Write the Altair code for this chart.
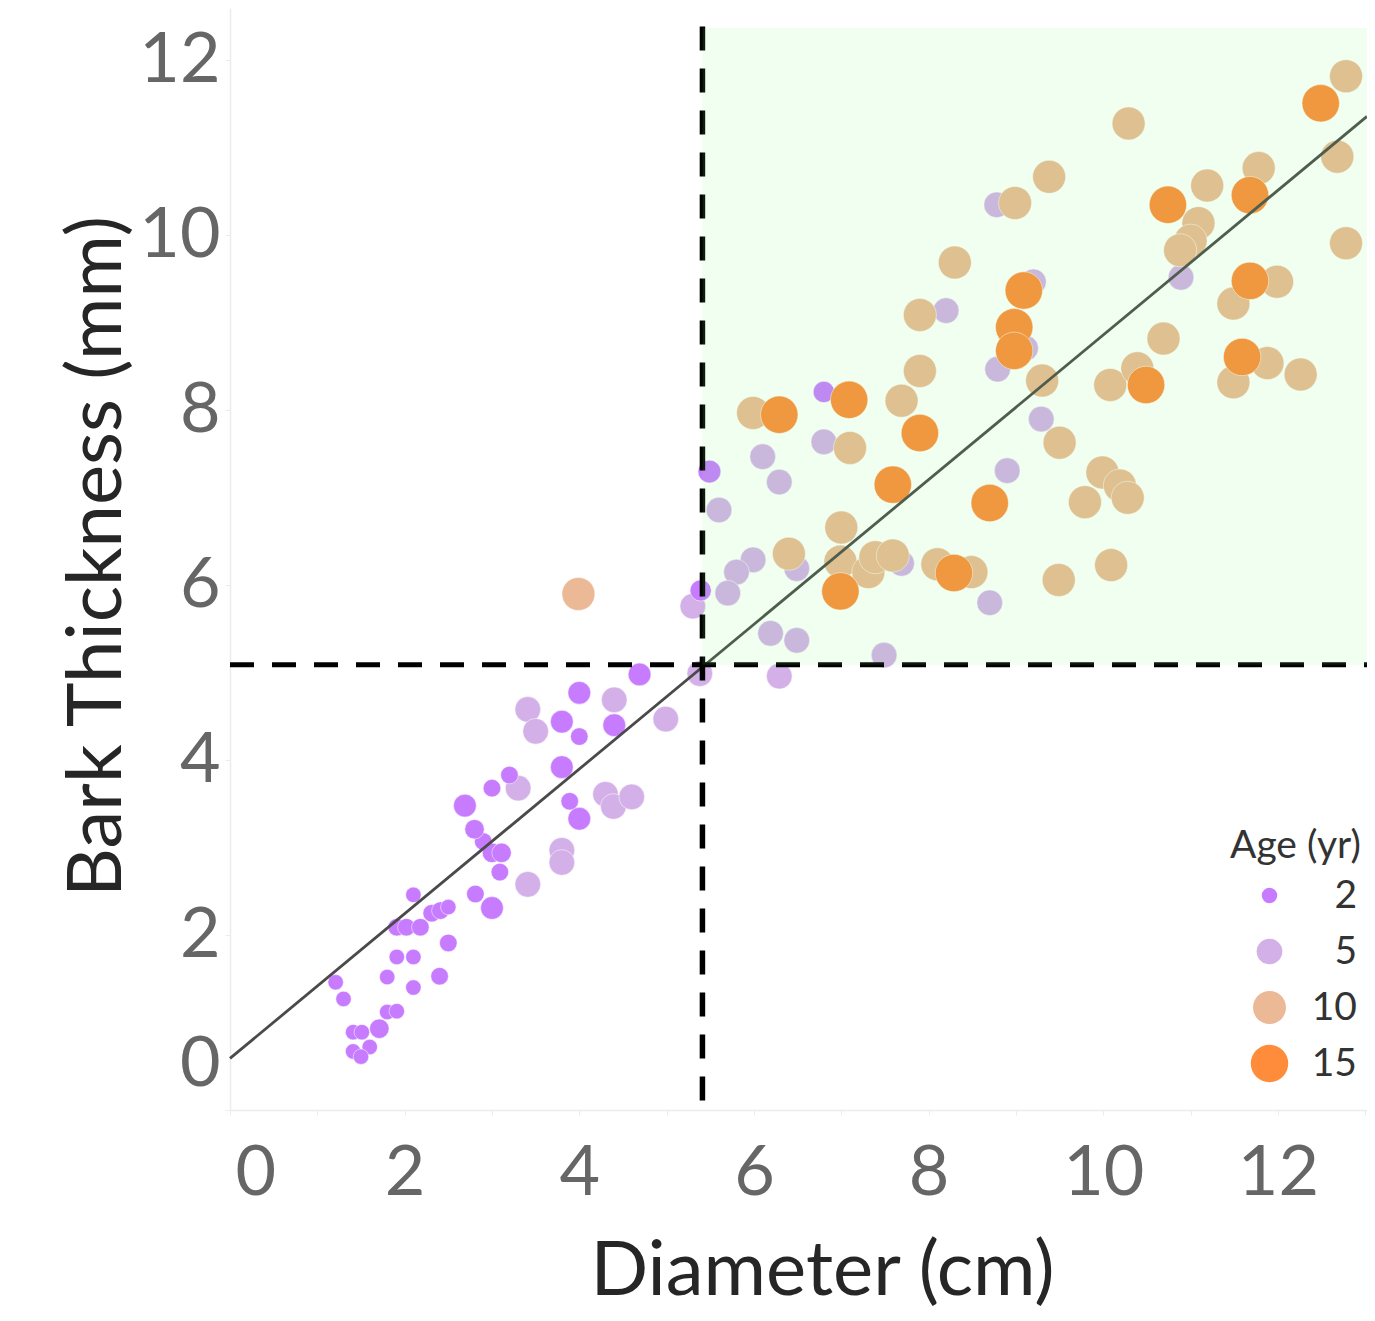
import altair as alt
import pandas as pd

# ---------------- data ----------------
# age group 5 (lavender)
lav_x = [5.38, 4.40, 3.41, 4.99, 3.50, 3.30, 4.30, 4.39, 4.60, 3.80, 3.80, 3.41, 5.30,
         6.80, 6.10, 6.29, 5.60, 5.99, 5.80, 5.70, 6.49, 7.69, 6.19, 6.49, 7.49, 6.29,
         8.78, 8.20, 9.20, 9.11, 8.79, 10.89, 9.29, 8.90, 8.70]
lav_y = [4.99, 4.69, 4.58, 4.47, 4.33, 3.68, 3.61, 3.47, 3.58, 2.97, 2.83, 2.58, 5.76,
         7.64, 7.47, 7.18, 6.86, 6.29, 6.15, 5.91, 6.19, 6.25, 5.45, 5.37, 5.20, 4.96,
         10.35, 9.14, 9.47, 8.71, 8.47, 9.52, 7.90, 7.31, 5.80]

# age group 2 (purple), with individual ages (sizes vary)
pur_x = [2.90, 3.00, 3.11, 3.09, 2.10, 2.81, 3.00, 2.31, 2.41, 2.50, 1.91, 2.02, 2.18,
         2.50, 1.91, 2.10, 1.80, 2.40, 1.21, 1.30, 2.10, 1.80, 1.91, 1.41, 1.51, 1.71,
         1.60, 1.41, 1.50, 4.69, 4.00, 3.80, 4.40, 4.00, 3.80, 3.20, 3.00, 2.69, 3.89,
         4.00, 2.80, 5.39, 5.49, 6.80]
pur_y = [3.07, 2.94, 2.94, 2.72, 2.46, 2.47, 2.31, 2.25, 2.28, 2.32, 2.09, 2.09, 2.09,
         1.91, 1.75, 1.75, 1.52, 1.53, 1.46, 1.27, 1.40, 1.12, 1.13, 0.89, 0.89, 0.93,
         0.72, 0.67, 0.61, 4.98, 4.77, 4.44, 4.40, 4.27, 3.92, 3.83, 3.68, 3.48, 3.53,
         3.33, 3.21, 5.94, 7.30, 8.21]
pur_age = [2.5, 3, 3, 2.5, 2, 2.5, 4, 2.5, 2.5, 2, 2.5, 2.5, 2.5,
           2.5, 2, 2, 2, 2.5, 2, 2, 2, 2, 2, 2, 2, 3,
           2, 2, 2, 4, 4, 4, 4, 2.5, 4, 2.5, 2.5, 4, 2.5,
           4, 3, 3.5, 4, 3.5]

# age group 10 (tan)
tan_x = [5.99, 7.69, 7.10, 7.00, 6.40, 6.99, 7.31, 7.39, 7.59, 8.10, 8.49, 7.90, 7.90,
         8.30, 8.99, 9.38, 9.30, 9.50, 9.99, 10.19, 10.28, 9.79, 9.49, 10.09, 10.08,
         10.39, 10.69, 10.29, 12.78, 12.68, 11.78, 11.19, 11.09, 11.00, 10.88, 12.78,
         11.99, 11.49, 11.88, 11.49, 12.26, 3.99]
tan_y = [7.97, 8.11, 7.57, 6.66, 6.36, 6.27, 6.15, 6.32, 6.34, 6.24, 6.15, 8.45, 9.09,
         9.69, 10.37, 10.67, 8.34, 7.63, 7.29, 7.14, 7.00, 6.95, 6.06, 6.23, 8.29,
         8.48, 8.82, 11.28, 11.82, 10.90, 10.77, 10.57, 10.14, 9.94, 9.83, 9.91,
         9.47, 9.22, 8.54, 8.32, 8.41, 5.90]

# age group 15 (orange)
ora_x = [6.29, 7.09, 7.90, 7.59, 6.99, 8.29, 8.70, 8.98, 8.98, 9.09, 10.49, 10.74,
         11.68, 11.68, 11.59, 12.49]
ora_y = [7.95, 8.12, 7.74, 7.15, 5.93, 6.14, 6.94, 8.95, 8.68, 9.37, 8.29, 10.35,
         10.46, 9.48, 8.61, 11.51]

# fitted line end points and thresholds
x_max = 13.02
y_max = 12.6
fit_x = [0.0, 13.02]
fit_y = [0.59, 11.36]
thr_diameter = [5.41]
thr_bark = [5.09]
zone_top = [12.37]
vline_span = [0.11, 12.43]

age_levels = [2, 5, 10, 15]
age_colors = ["#c77cff", "#d4b0e8", "#ebb995", "#ff8c3a"]
age_sizes = [240, 660, 1089, 1400]

# ---------------- tables ----------------
rows = []
for xs, ys, grp, ages in [
    (lav_x, lav_y, 5, None),
    (pur_x, pur_y, 2, pur_age),
    (tan_x, tan_y, 10, None),
    (ora_x, ora_y, 15, None),
]:
    for i, (a, b) in enumerate(zip(xs, ys)):
        rows.append({"diameter": a, "bark": b, "grp": grp,
                     "age": ages[i] if ages else grp})
pts = pd.DataFrame(rows)

fit = pd.DataFrame({"diameter": fit_x, "bark": fit_y})
vline = pd.DataFrame({"diameter": thr_diameter, "b0": [vline_span[0]], "b1": [vline_span[1]]})
hline = pd.DataFrame({"bark": thr_bark, "d0": [0.0], "d1": [x_max]})
zone = pd.DataFrame({"d0": thr_diameter, "d1": [x_max], "b0": thr_bark, "b1": zone_top})

FONT = "Lato"
xscale = alt.Scale(domain=[0, x_max], nice=False, zero=False)
yscale = alt.Scale(domain=[0, y_max], nice=False, zero=False)

xaxis = alt.Axis(
    values=list(range(0, 14)),
    labelExpr="datum.value % 2 == 0 ? datum.label : ''",
    labelFlush=True, labelFlushOffset=-5, grid=False,
    labelFont=FONT, labelFontSize=70, labelColor="#666666",
    labelPadding=24, tickSize=5, tickColor="#ececec",
    domainColor="#ececec", domainWidth=1.5,
    titleFont=FONT, titleFontSize=76, titleFontWeight="normal", titleColor="#262626",
    titleX=592, titleY=184, titleBaseline="alphabetic", titleAlign="center",
)
yaxis = alt.Axis(
    values=[0, 2, 4, 6, 8, 10, 12],
    labelFlush=True, labelFlushOffset=-10, grid=False,
    labelFont=FONT, labelFontSize=70, labelColor="#666666",
    labelPadding=5, tickSize=5, tickColor="#ececec",
    domainColor="#ececec", domainWidth=1.5,
    titleFont=FONT, titleFontSize=76, titleFontWeight="normal", titleColor="#262626",
    titleX=-110, titleY=548, titleBaseline="alphabetic", titleAlign="center", titleAngle=270,
)


def X(field):
    return alt.X(field, type="quantitative", scale=xscale, axis=xaxis, title="Diameter (cm)")


def Y(field):
    return alt.Y(field, type="quantitative", scale=yscale, axis=yaxis, title="Bark Thickness (mm)")


legend = alt.Legend(
    title="Age (yr)", values=age_levels, orient="none", legendX=1000, legendY=819,
    titleFont=FONT, titleFontSize=39, titleFontWeight="normal", titleColor="#333333",
    titlePadding=10,
    labelFont=FONT, labelFontSize=39, labelColor="#333333", labelAlign="right",
    labelOffset=68, symbolOffset=20, rowPadding=16, symbolType="circle",
    symbolStrokeWidth=0, padding=0,
)

points = alt.Chart(pts).mark_circle(opacity=1, stroke="white", strokeWidth=1, strokeOpacity=0.5).encode(
    x=X("diameter"),
    y=Y("bark"),
    color=alt.Color("grp:Q", scale=alt.Scale(domain=age_levels, range=age_colors, interpolate="rgb"),
                    legend=legend),
    size=alt.Size("age:Q", scale=alt.Scale(domain=age_levels, range=age_sizes), legend=legend),
)

fit_line = alt.Chart(fit).mark_line(color="#4a4a4a", strokeWidth=2.8).encode(
    x=X("diameter"), y=Y("bark")
)

vrule = alt.Chart(vline).mark_rule(color="#000000", strokeWidth=5.5, strokeDash=[24, 18]).encode(
    x=X("diameter"), y=Y("b0"), y2="b1"
)
hrule = alt.Chart(hline).mark_rule(color="#000000", strokeWidth=5, strokeDash=[24, 18]).encode(
    y=Y("bark"), x=X("d0"), x2="d1"
)

overlay = alt.Chart(zone).mark_rect(color="#6fff6f", opacity=0.104).encode(
    x=X("d0"), x2="d1", y=Y("b0"), y2="b1"
)

chart = alt.layer(points, fit_line, vrule, hrule, overlay).properties(
    width=1137, height=1102,
    autosize=alt.AutoSizeParams(type="none"),
    padding={"left": 222, "top": 0, "right": 0, "bottom": 203},
    background="white",
).configure_view(stroke=None)

chart.save("out.html", embed_options={"renderer": "svg", "actions": False})
